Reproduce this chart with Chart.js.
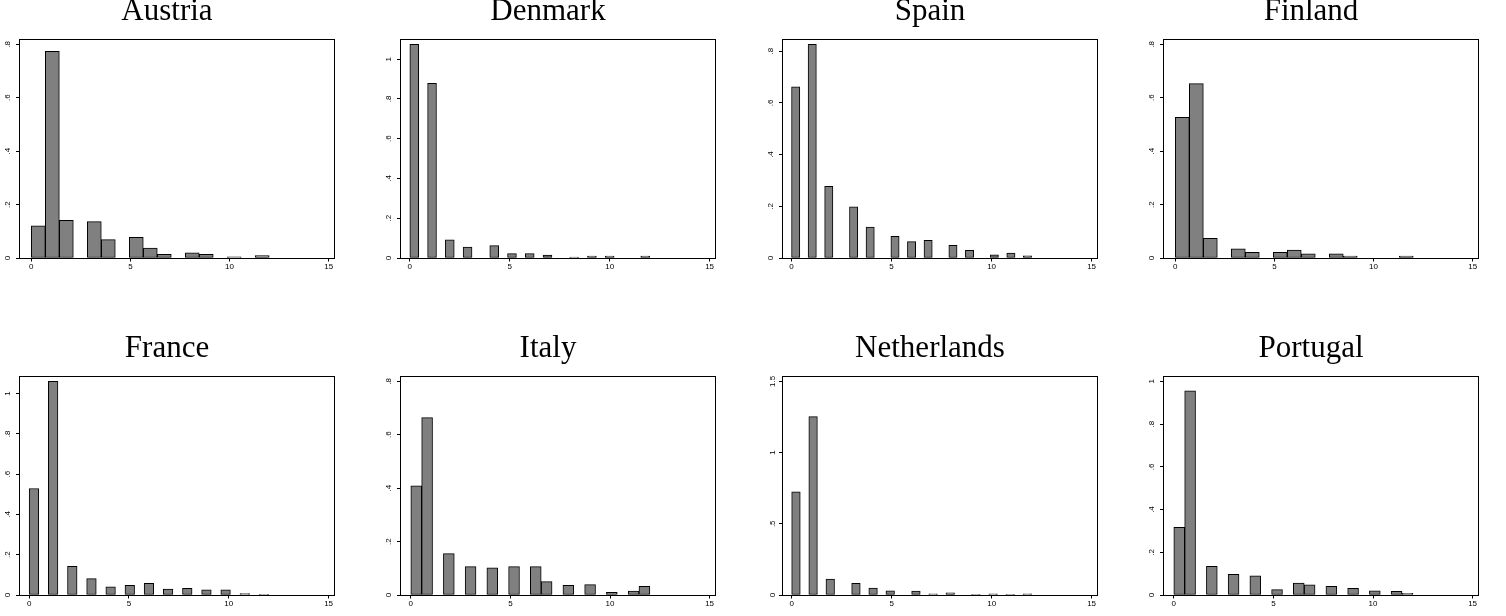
<!DOCTYPE html>
<html>
<head>
<meta charset="utf-8">
<script src="https://cdn.jsdelivr.net/npm/chart.js@4/dist/chart.umd.min.js"></script>
<style>
html, body { margin: 0; padding: 0; background: #ffffff; width: 1506px; height: 616px; overflow: hidden; position: relative; }
canvas { position: absolute; }
</style>
</head>
<body>
<script>
// ---- data ----
const countries = ['Austria', 'Denmark', 'Spain', 'Finland', 'France', 'Italy', 'Netherlands', 'Portugal'];
const values = [0, 1, 2, 3, 4, 5, 6, 7, 8, 9, 10, 11, 12];          // observed values (binned)
const binCounts = [17, 27, 29, 17, 25, 22, 28, 22];                   // histogram bins over 0..12

const austria     = [0.120, 0.774, 0.141, 0.136, 0.069, 0.077, 0.037, 0.014, 0.019, 0.014, 0.004, 0, 0.009];
const denmark     = [1.075, 0.879, 0.092, 0.055, 0.062, 0.022, 0.022, 0.015, 0.005, 0.010, 0.010, 0, 0.010];
const spain       = [0.662, 0.826, 0.277, 0.198, 0.120, 0.084, 0.063, 0.068, 0.049, 0.030, 0.012, 0.019, 0.008];
const finland     = [0.527, 0.653, 0.074, 0.034, 0.021, 0.021, 0.030, 0.016, 0.016, 0.0075, 0, 0, 0.0075];
const france      = [0.529, 1.061, 0.142, 0.081, 0.040, 0.048, 0.058, 0.030, 0.033, 0.026, 0.026, 0.007, 0.003];
const italy       = [0.409, 0.664, 0.155, 0.106, 0.102, 0.106, 0.106, 0.050, 0.036, 0.039, 0.010, 0.015, 0.032];
const netherlands = [0.725, 1.252, 0.112, 0.082, 0.049, 0.030, 0.028, 0.009, 0.016, 0.002, 0.009, 0.005, 0.009];
const portugal    = [0.317, 0.956, 0.134, 0.097, 0.090, 0.025, 0.056, 0.048, 0.041, 0.031, 0.020, 0.017, 0.008];
const densities = [austria, denmark, spain, finland, france, italy, netherlands, portugal];

const xTickValues = [0, 5, 10, 15];
const xTickLabels = ['0', '5', '10', '15'];
const yTicksA = [0, 0.2, 0.4, 0.6, 0.8];
const yLabelsA = ['0', '.2', '.4', '.6', '.8'];
const yTicksB = [0, 0.2, 0.4, 0.6, 0.8, 1];
const yLabelsB = ['0', '.2', '.4', '.6', '.8', '1'];
const yTicksC = [0, 0.5, 1, 1.5];
const yLabelsC = ['0', '.5', '1', '1.5'];
const yTickValues = [yTicksA, yTicksB, yTicksA, yTicksA, yTicksB, yTicksA, yTicksC, yTicksB];
const yTickLabels = [yLabelsA, yLabelsB, yLabelsA, yLabelsA, yLabelsB, yLabelsA, yLabelsC, yLabelsB];

// ---- layout / style ----
const colLeft = [0, 381, 763, 1144];
const rowTop = [-10, 327];
const CW = 340, CH = 288;
const sans = '"Liberation Sans", Arial, Helvetica, sans-serif';
const serif = '"Liberation Serif", "Times New Roman", serif';

const framePlugin = {
  id: 'frame',
  afterDraw(chart) {
    const { ctx, chartArea: a } = chart;
    ctx.save();
    ctx.strokeStyle = '#000';
    ctx.lineWidth = 1;
    ctx.strokeRect(a.left + 0.5, a.top + 0.5, a.right - a.left, a.bottom - a.top);
    ctx.restore();
  }
};

countries.forEach((name, idx) => {
  const col = idx % 4, row = Math.floor(idx / 4);
  const canvas = document.createElement('canvas');
  canvas.width = CW; canvas.height = CH;
  canvas.style.left = colLeft[col] + 'px';
  canvas.style.top = rowTop[row] + 'px';
  canvas.style.width = CW + 'px';
  canvas.style.height = CH + 'px';
  document.body.appendChild(canvas);

  const n = binCounts[idx];
  const w = 12 / n;
  const bins = [];
  for (let j = 0; j < n; j++) bins.push({ x: (j + 0.5) * w, y: null });
  values.forEach((k, i) => {
    const j = Math.min(Math.floor(k * n / 12), n - 1);
    const d = densities[idx][i];
    if (d > 0) bins[j].y = d;
  });
  const yt = yTickValues[idx];
  const yMax = Math.max(yt[yt.length - 1], Math.max(...densities[idx])) * 1.025;
  const longLabels = yTickLabels[idx].some(s => s.length > 2);

  new Chart(canvas, {
    type: 'bar',
    data: {
      datasets: [{
        data: bins,
        backgroundColor: '#808080',
        borderColor: '#000000',
        borderWidth: 1,
        borderSkipped: false,
        barPercentage: 1,
        categoryPercentage: 1
      }]
    },
    plugins: [framePlugin],
    options: {
      responsive: false,
      animation: false,
      devicePixelRatio: 1,
      layout: { padding: { left: 0, right: 6, top: 0, bottom: 0 } },
      plugins: {
        legend: { display: false },
        tooltip: { enabled: false },
        title: {
          display: true,
          text: name,
          color: '#000',
          font: { family: serif, size: 31, weight: 'normal', lineHeight: 1.2 },
          padding: { top: 3, bottom: 8.8 }
        }
      },
      scales: {
        x: {
          type: 'linear',
          min: -w / 2 - 0.27,
          max: 15.27,
          offset: false,
          afterBuildTicks: s => { s.ticks = xTickValues.map(v => ({ value: v })); },
          afterFit: s => { s.height = 20; },
          ticks: {
            autoSkip: false, maxRotation: 0, minRotation: 0,
            color: '#000', padding: 0,
            font: { family: sans, size: 8 },
            callback: (v, i) => xTickLabels[i]
          },
          grid: { display: true, offset: false, drawOnChartArea: false, drawTicks: true, tickLength: 3.5, color: '#000', lineWidth: 1 },
          border: { display: false }
        },
        y: {
          type: 'linear',
          min: 0,
          max: yMax,
          afterBuildTicks: s => { s.ticks = yt.map(v => ({ value: v })); },
          afterFit: s => { s.width = 19; },
          ticks: {
            autoSkip: false, minRotation: 90, maxRotation: 90, crossAlign: 'center',
            color: '#000', padding: longLabels ? 1 : 4.5,
            font: { family: sans, size: 8 },
            callback: (v, i) => yTickLabels[idx][i]
          },
          grid: { display: true, offset: false, drawOnChartArea: false, drawTicks: true, tickLength: 3, color: '#000', lineWidth: 1 },
          border: { display: false }
        }
      }
    }
  });
});
</script>
</body>
</html>
